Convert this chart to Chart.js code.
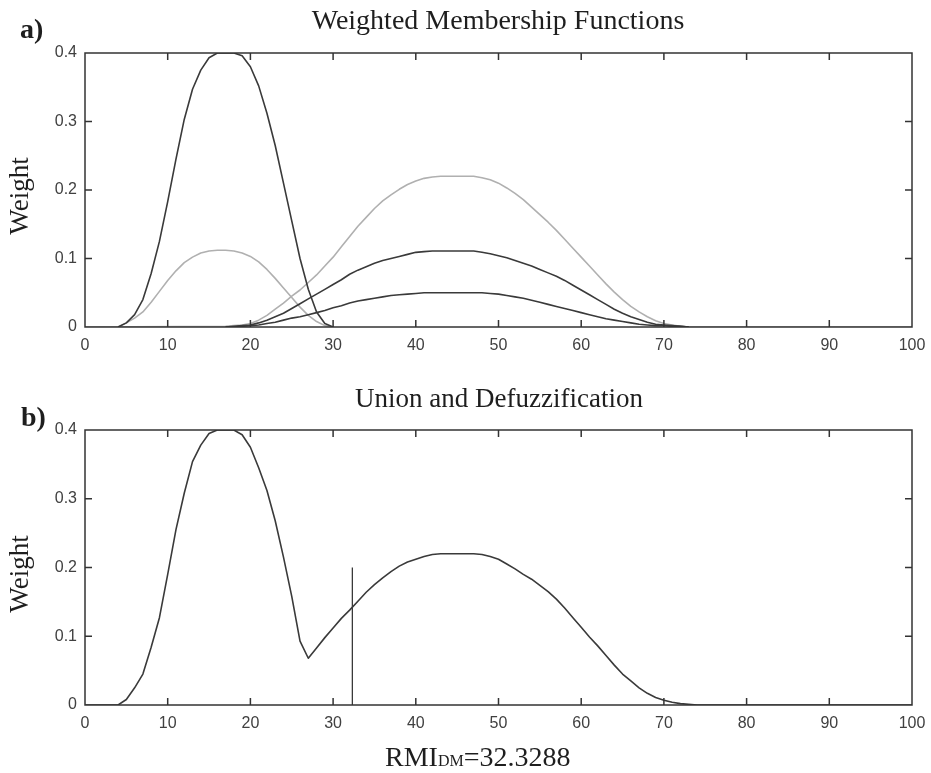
<!DOCTYPE html>
<html>
<head>
<meta charset="utf-8">
<script src="https://cdn.jsdelivr.net/npm/chart.js@4.4.1/dist/chart.umd.min.js"></script>
<style>
  html, body { margin: 0; padding: 0; background: #fff; }
  body { width: 931px; height: 773px; position: relative; overflow: hidden; }
  .wrap { position: absolute; left: 0; width: 931px; height: 390px; }
  .txt { position: absolute; font-family: 'Liberation Serif', 'Times New Roman', serif; color: #1e1e1e; line-height: 1; white-space: nowrap; z-index: 2; }
  .title { font-size: 28px; transform: translateX(-50%); }
  .tag { font-size: 28px; font-weight: bold; }
  .ylab { font-size: 27px; transform: translate(-50%, -50%) rotate(-90deg); }
</style>
</head>
<body>
<div class="wrap" style="top:0"><canvas id="chartA" width="931" height="390"></canvas></div>
<div class="wrap" style="top:383px"><canvas id="chartB" width="931" height="390"></canvas></div>

<div class="txt title" style="left:498px; top:6px; font-size:28px">Weighted Membership Functions</div>
<div class="txt tag" style="left:20px; top:15px">a)</div>
<div class="txt ylab" style="left:19px; top:196px">Weight</div>

<div class="txt title" style="left:499px; top:385px; font-size:27px">Union and Defuzzification</div>
<div class="txt tag" style="left:21px; top:403px">b)</div>
<div class="txt ylab" style="left:19px; top:574px">Weight</div>

<div class="txt" style="left:385px; top:743px; font-size:28px">RMI<span style="font-size:16px">DM</span>=32.3288</div>

<script>
// --- data ---
const xTicks = [0, 10, 20, 30, 40, 50, 60, 70, 80, 90, 100];
const yTicks = [0, 0.1, 0.2, 0.3, 0.4];

// left membership functions (x positions and weights)
const leftX = [0, 4, 5, 6, 7, 8, 9, 10, 11, 12, 13, 14, 15, 16, 17, 18, 19, 20, 21, 22, 23, 24, 25, 26, 27, 28, 29, 30];
const darkBig = [null, 0, 0.006, 0.018, 0.04, 0.078, 0.125, 0.183, 0.245, 0.303, 0.347, 0.375, 0.393, 0.4, 0.4, 0.4,
  0.396, 0.38, 0.352, 0.312, 0.265, 0.21, 0.155, 0.1, 0.055, 0.022, 0.005, 0];
const lightSmall = [0, 0, 0.006, 0.013, 0.022, 0.036, 0.052, 0.068, 0.082, 0.094, 0.102, 0.108, 0.111, 0.112, 0.112, 0.111,
  0.108, 0.103, 0.095, 0.084, 0.071, 0.057, 0.043, 0.029, 0.017, 0.008, 0.002, 0];

// right membership functions
const rightX = [0, 17, 18, 19, 20, 21, 22, 23, 24, 25, 26, 27, 28, 29, 30, 31, 32, 33, 34, 35, 36, 37, 38, 39, 40,
  41, 42, 43, 44, 45, 46, 47, 48, 49, 50, 51, 52, 53, 54, 55, 56, 57, 58, 59, 60, 61, 62, 63, 64, 65, 66, 67, 68,
  69, 70, 71, 72, 73, 100];
const lightBig = [0, 0.001, 0.002, 0.003, 0.005, 0.01, 0.017, 0.026, 0.035, 0.045, 0.054, 0.065, 0.076, 0.089, 0.102,
  0.117, 0.132, 0.147, 0.16, 0.173, 0.184, 0.193, 0.201, 0.208, 0.213, 0.217, 0.219, 0.22, 0.22, 0.22, 0.22, 0.22,
  0.218, 0.215, 0.21, 0.203, 0.195, 0.186, 0.175, 0.164, 0.153, 0.141, 0.128, 0.115, 0.102, 0.089, 0.076, 0.063,
  0.051, 0.04, 0.03, 0.022, 0.015, 0.009, 0.005, 0.003, 0.001, 0, 0];
const darkMid = [null, 0, 0.001, 0.002, 0.003, 0.006, 0.01, 0.015, 0.02, 0.027, 0.034, 0.041, 0.048, 0.055, 0.062,
  0.069, 0.077, 0.083, 0.088, 0.093, 0.097, 0.1, 0.103, 0.106, 0.109, 0.11, 0.111, 0.111, 0.111, 0.111, 0.111, 0.111,
  0.109, 0.107, 0.104, 0.101, 0.097, 0.093, 0.089, 0.084, 0.079, 0.074, 0.068, 0.061, 0.054, 0.047, 0.04, 0.033,
  0.026, 0.02, 0.015, 0.011, 0.007, 0.004, 0.003, 0.002, 0.001, 0, null];
const darkLow = [null, 0, 0, 0.001, 0.002, 0.003, 0.005, 0.007, 0.01, 0.013, 0.015, 0.018, 0.021, 0.024, 0.028,
  0.031, 0.035, 0.038, 0.04, 0.042, 0.044, 0.046, 0.047, 0.048, 0.049, 0.05, 0.05, 0.05, 0.05, 0.05, 0.05, 0.05,
  0.05, 0.049, 0.048, 0.046, 0.044, 0.042, 0.039, 0.036, 0.033, 0.03, 0.027, 0.024, 0.021, 0.018, 0.015, 0.012,
  0.01, 0.008, 0.006, 0.004, 0.003, 0.002, 0.002, 0.001, 0.001, 0, null];

// union curve (panel b)
const unionX = [0, 4, 5, 6, 7, 8, 9, 10, 11, 12, 13, 14, 15, 16, 17, 18, 19, 20, 21, 22, 23, 24, 25, 26, 27, 28, 29,
  30, 31, 32, 33, 34, 35, 36, 37, 38, 39, 40, 41, 42, 43, 44, 45, 46, 47, 48, 49, 50, 51, 52, 53, 54, 55, 56, 57,
  58, 59, 60, 61, 62, 63, 64, 65, 66, 67, 68, 69, 70, 71, 72, 73, 74, 100];
const unionW = [0, 0, 0.008, 0.025, 0.045, 0.084, 0.127, 0.19, 0.255, 0.308, 0.354, 0.378, 0.395, 0.4, 0.4, 0.4,
  0.393, 0.375, 0.345, 0.312, 0.268, 0.215, 0.158, 0.093, 0.068, 0.083, 0.098, 0.112, 0.126, 0.138, 0.151, 0.164,
  0.175, 0.185, 0.194, 0.202, 0.208, 0.212, 0.216, 0.219, 0.22, 0.22, 0.22, 0.22, 0.22, 0.219, 0.216, 0.212, 0.205,
  0.198, 0.19, 0.183, 0.174, 0.165, 0.154, 0.141, 0.127, 0.113, 0.099, 0.086, 0.072, 0.058, 0.045, 0.035, 0.025,
  0.017, 0.011, 0.007, 0.004, 0.002, 0.001, 0, 0];

const rmiValue = 32.3288;
const rmiLineTop = 0.2;

// --- drawing ---
const DARK = '#3a3a3a';
const LIGHT = '#b0b0b0';

const pts = (xs, ys) => xs.map((x, i) => ({ x, y: ys[i] }));

const line = (data, color, width = 1.6) => ({
  data,
  borderColor: color,
  borderWidth: width,
  pointRadius: 0,
  tension: 0,
  spanGaps: false,
  borderJoinStyle: 'round',
});

// box + inward tick marks like a MATLAB axes
const framePlugin = {
  id: 'frame',
  afterDraw(chart) {
    const { ctx, chartArea: a, scales: { x, y } } = chart;
    ctx.save();
    ctx.strokeStyle = '#333';
    ctx.lineWidth = 1.5;
    ctx.beginPath();
    xTicks.slice(1, -1).forEach((v) => {
      const px = x.getPixelForValue(v);
      ctx.moveTo(px, a.bottom); ctx.lineTo(px, a.bottom - 7);
      ctx.moveTo(px, a.top);    ctx.lineTo(px, a.top + 7);
    });
    yTicks.slice(1, -1).forEach((v) => {
      const py = y.getPixelForValue(v);
      ctx.moveTo(a.left, py);  ctx.lineTo(a.left + 7, py);
      ctx.moveTo(a.right, py); ctx.lineTo(a.right - 7, py);
    });
    ctx.stroke();
    ctx.strokeRect(a.left, a.top, a.right - a.left, a.bottom - a.top);
    ctx.restore();
  },
};

const makeOptions = (padTop, xHeight) => ({
  responsive: false,
  animation: false,
  events: [],
  layout: { padding: { top: padTop, right: 19, left: 0, bottom: 0 } },
  plugins: { legend: { display: false }, tooltip: { enabled: false } },
  scales: {
    x: {
      type: 'linear',
      min: 0,
      max: 100,
      afterBuildTicks: (s) => { s.ticks = xTicks.map((v) => ({ value: v })); },
      afterFit: (s) => { s.height = xHeight; s.paddingRight = 0; s.paddingLeft = 0; },
      grid: { display: false, drawTicks: false },
      border: { display: false },
      ticks: { color: '#404040', padding: 9, font: { size: 16 }, maxRotation: 0, callback: (v) => `${v}` },
    },
    y: {
      type: 'linear',
      min: 0,
      max: 0.4,
      afterBuildTicks: (s) => { s.ticks = yTicks.map((v) => ({ value: v })); },
      afterFit: (s) => { s.width = 85; s.paddingTop = 0; s.paddingBottom = 0; },
      grid: { display: false, drawTicks: false },
      border: { display: false },
      ticks: { color: '#404040', padding: 8, font: { size: 16 }, callback: (v) => `${+v.toFixed(1)}` },
    },
  },
});

Chart.defaults.font.family = "'Liberation Sans', Arial, sans-serif";

new Chart(document.getElementById('chartA'), {
  type: 'line',
  data: {
    datasets: [
      line(pts(leftX, darkBig), DARK),
      line(pts(rightX, darkMid), DARK),
      line(pts(rightX, darkLow), DARK),
      line(pts(leftX, lightSmall), LIGHT),
      line(pts(rightX, lightBig), LIGHT),
    ],
  },
  options: makeOptions(53, 63),
  plugins: [framePlugin],
});

new Chart(document.getElementById('chartB'), {
  type: 'line',
  data: {
    datasets: [
      line(pts(unionX, unionW), DARK),
      line([{ x: rmiValue, y: 0 }, { x: rmiValue, y: rmiLineTop }], DARK, 1.3),
    ],
  },
  options: makeOptions(47, 68),
  plugins: [framePlugin],
});
</script>
</body>
</html>
